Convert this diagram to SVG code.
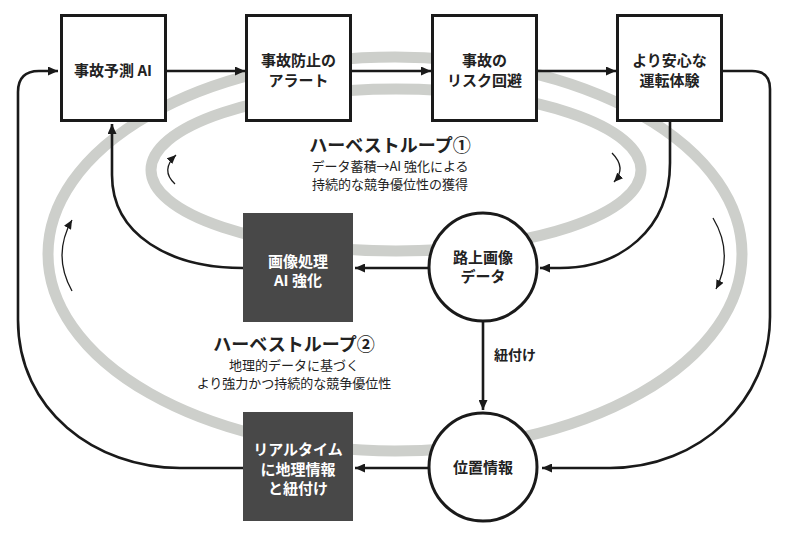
<svg xmlns="http://www.w3.org/2000/svg" width="794" height="542" viewBox="0 0 794 542">
<style>
.band{fill:none;stroke:#cdcfcb;stroke-width:11}
.box{fill:#fff;stroke:#1a1a1a;stroke-width:3}
.dark{fill:#484848}
.circ{fill:#fff;stroke:#1a1a1a;stroke-width:3}
.con{fill:none;stroke:#1a1a1a;stroke-width:2.6}
.thin{fill:none;stroke:#1a1a1a;stroke-width:1.3}
.lbl{font-family:"Noto Sans CJK JP","Noto Sans",sans-serif;font-size:15px;font-weight:bold;fill:#222;text-anchor:middle}
.wlbl{font-family:"Noto Sans CJK JP","Noto Sans",sans-serif;font-size:15px;font-weight:bold;fill:#fff;text-anchor:middle}
.ttl{font-family:"Noto Sans CJK JP","Noto Sans",sans-serif;font-size:18px;font-weight:bold;fill:#222;text-anchor:middle}
.sub{font-family:"Noto Sans CJK JP","Noto Sans",sans-serif;font-size:13px;fill:#222;text-anchor:middle}
</style>
<defs>
<marker id="ah" markerUnits="userSpaceOnUse" markerWidth="10" markerHeight="9" refX="10" refY="4.5" orient="auto"><path d="M0,0 L10,4.5 L0,9 z" fill="#1a1a1a"/></marker>
<marker id="sh" markerUnits="userSpaceOnUse" markerWidth="9" markerHeight="8" refX="9" refY="4" orient="auto"><path d="M0,0 L9,4 L0,8 z" fill="#1a1a1a"/></marker>
</defs>
<rect width="794" height="542" fill="#fff"/>
<g id="loops">
<ellipse class="band" cx="395" cy="254" rx="347" ry="197"/>
<ellipse class="band" cx="396" cy="170" rx="245" ry="81"/>
</g>
<g id="loop-arrows">
<path class="thin" d="M175,184 Q160,170 176,155" marker-end="url(#sh)"/>
<path class="thin" d="M612,153 Q627,168 614,182" marker-end="url(#sh)"/>
<path class="thin" d="M72,291 Q52,255 72,220" marker-end="url(#sh)"/>
<path class="thin" d="M713,218 Q734,253 716,289" marker-end="url(#sh)"/>
</g>
<g id="connectors">
<path class="con" d="M167,71 H245" marker-end="url(#ah)"/>
<path class="con" d="M352,71 H431" marker-end="url(#ah)"/>
<path class="con" d="M538,71 H616" marker-end="url(#ah)"/>
<path class="con" d="M723,71 H752 Q770,71 770,89 V317 C770,400 700,468 610,468 H542" marker-end="url(#ah)"/>
<path class="con" d="M670,122 V163 C670,230 620,268 560,268 H540" marker-end="url(#ah)"/>
<path class="con" d="M428,268 H355" marker-end="url(#ah)"/>
<path class="con" d="M243,268 C170,268 112,235 112,175 V124" marker-end="url(#ah)"/>
<path class="con" d="M483,322 V410" marker-end="url(#ah)"/>
<path class="con" d="M428,468 H355" marker-end="url(#ah)"/>
<path class="con" d="M243,468 H180 C95,468 18,410 18,320 V92 Q18,71 39,71 H58" marker-end="url(#ah)"/>
</g>
<g id="n1"><rect class="box" x="61.5" y="15.5" width="104" height="105"/><text class="lbl" x="113" y="76">事故予測 AI</text></g>
<g id="n2"><rect class="box" x="246.5" y="15.5" width="104" height="105"/><text class="lbl" x="298.5" y="66">事故防止の</text><text class="lbl" x="298.5" y="86">アラート</text></g>
<g id="n3"><rect class="box" x="432.5" y="15.5" width="104" height="105"/><text class="lbl" x="484.5" y="66">事故の</text><text class="lbl" x="484.5" y="86">リスク回避</text></g>
<g id="n4"><rect class="box" x="617.5" y="15.5" width="104" height="105"/><text class="lbl" x="669.5" y="66">より安心な</text><text class="lbl" x="669.5" y="86">運転体験</text></g>
<g id="n5"><rect class="dark" x="243" y="213" width="110" height="109"/><text class="wlbl" x="298" y="267">画像処理</text><text class="wlbl" x="298" y="286">AI 強化</text></g>
<g id="n6"><circle class="circ" cx="483" cy="267" r="54"/><text class="lbl" x="483" y="262.5">路上画像</text><text class="lbl" x="483" y="281.5">データ</text></g>
<g id="n7"><rect class="dark" x="243" y="412" width="110" height="109"/><text class="wlbl" x="298" y="455">リアルタイム</text><text class="wlbl" x="298" y="475">に地理情報</text><text class="wlbl" x="298" y="494">と紐付け</text></g>
<g id="n8"><circle class="circ" cx="483" cy="467" r="54"/><text class="lbl" x="483" y="472.5">位置情報</text></g>
<g id="labels">
<text class="lbl" x="515" y="360" style="font-size:14px">紐付け</text>
<text class="ttl" x="390" y="152">ハーベストループ①</text>
<text class="sub" x="390" y="171">データ蓄積→AI 強化による</text>
<text class="sub" x="390" y="189">持続的な競争優位性の獲得</text>
<text class="ttl" x="294" y="351">ハーベストループ②</text>
<text class="sub" x="294" y="370">地理的データに基づく</text>
<text class="sub" x="294" y="388">より強力かつ持続的な競争優位性</text>
</g>
</svg>
